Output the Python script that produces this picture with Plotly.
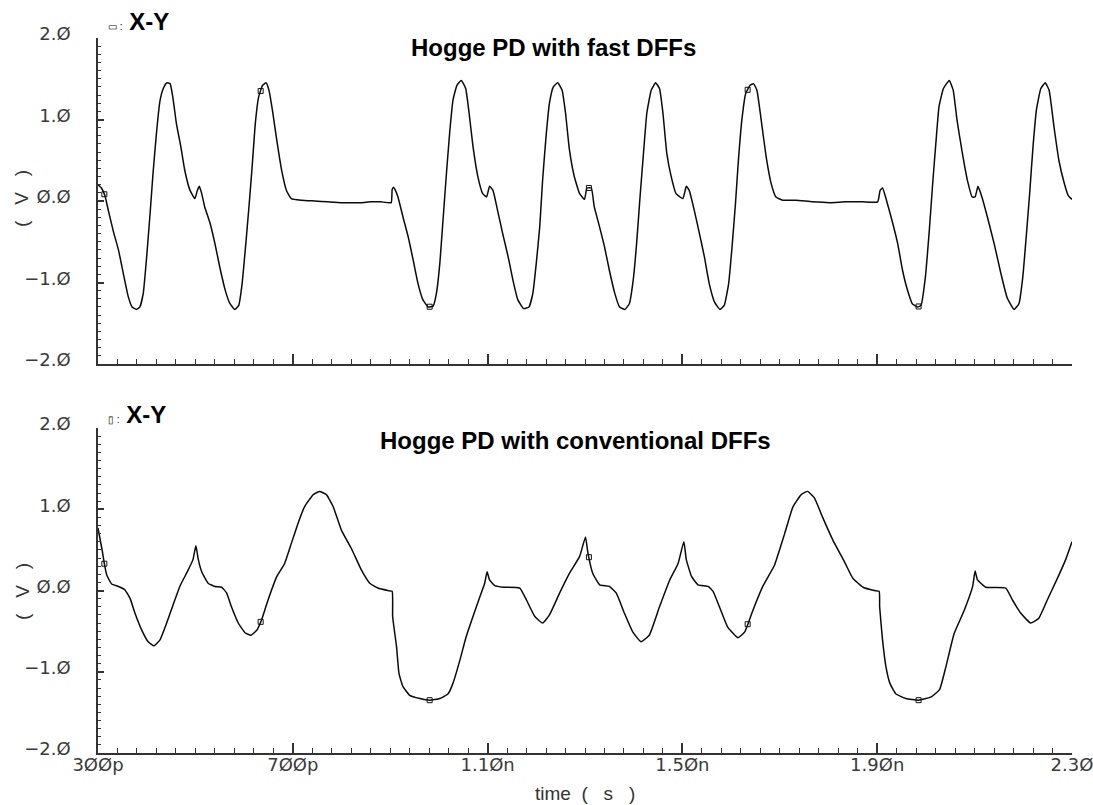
import numpy as np
import plotly.graph_objects as go

# Time axis in picoseconds, voltages in volts
top_t = [300, 307, 314, 321, 331, 342, 352, 362, 370, 379, 386, 393, 400, 407, 413, 420, 427, 434, 441, 448,
         454, 461, 470, 478, 489, 499, 504, 508, 513, 519, 530, 540, 550, 561, 571, 581, 589, 596, 603, 610,
         617, 623, 630, 638, 645, 651, 658, 667, 677, 687, 697, 718, 745, 772, 800, 813, 840, 861, 880, 902,
         904, 907, 910, 916, 926, 937, 947, 957, 967, 978, 988, 995, 1002, 1008, 1015, 1022, 1029, 1037, 1046, 1055,
         1062, 1070, 1080, 1090, 1098, 1104, 1111, 1121, 1131, 1142, 1152, 1162, 1174, 1185, 1193, 1200, 1207, 1213, 1220, 1227,
         1235, 1244, 1253, 1260, 1268, 1278, 1289, 1299, 1304, 1313, 1319, 1330, 1340, 1350, 1361, 1371, 1382, 1391, 1399, 1406,
         1413, 1420, 1427, 1436, 1445, 1453, 1460, 1468, 1477, 1487, 1501, 1508, 1514, 1525, 1535, 1545, 1555, 1566, 1577, 1586,
         1595, 1602, 1609, 1615, 1622, 1630, 1639, 1646, 1653, 1661, 1672, 1682, 1692, 1706, 1733, 1767, 1802, 1836, 1870, 1901,
         1906, 1911, 1919, 1930, 1942, 1952, 1962, 1972, 1983, 1990, 1999, 2007, 2014, 2021, 2027, 2036, 2048, 2056, 2064, 2075,
         2085, 2095, 2101, 2107, 2115, 2126, 2140, 2154, 2167, 2181, 2191, 2199, 2206, 2213, 2220, 2227, 2236, 2245, 2253, 2263,
         2273, 2284, 2292, 2300]
top_v = [0.20, 0.16, 0.07, -0.11, -0.36, -0.60, -0.89, -1.17, -1.30, -1.33, -1.30, -1.13, -0.68, -0.15, 0.34, 0.83, 1.22, 1.38, 1.45, 1.44,
         1.26, 0.95, 0.67, 0.38, 0.13, 0.03, 0.13, 0.18, 0.09, -0.07, -0.27, -0.52, -0.81, -1.09, -1.26, -1.33, -1.28, -1.01, -0.56, -0.07,
         0.46, 0.95, 1.28, 1.42, 1.45, 1.36, 1.12, 0.75, 0.38, 0.13, 0.03, 0.01, 0.00, -0.01, -0.02, -0.02, -0.02, -0.01, -0.01, -0.02,
         0.14, 0.17, 0.14, 0.05, -0.19, -0.44, -0.72, -1.01, -1.21, -1.30, -1.29, -1.13, -0.76, -0.27, 0.30, 0.83, 1.24, 1.42, 1.48, 1.38,
         1.08, 0.67, 0.30, 0.09, 0.05, 0.18, 0.13, -0.13, -0.40, -0.68, -0.97, -1.21, -1.32, -1.30, -1.13, -0.76, -0.32, 0.26, 0.79, 1.20,
         1.40, 1.45, 1.36, 1.08, 0.63, 0.30, 0.09, 0.02, 0.16, 0.16, -0.07, -0.32, -0.56, -0.85, -1.13, -1.30, -1.33, -1.26, -0.97, -0.52,
         0.05, 0.58, 1.08, 1.36, 1.45, 1.38, 1.08, 0.58, 0.30, 0.09, 0.03, 0.18, 0.13, -0.13, -0.40, -0.68, -1.01, -1.24, -1.33, -1.28,
         -1.01, -0.56, -0.03, 0.50, 0.99, 1.32, 1.42, 1.44, 1.36, 1.03, 0.54, 0.22, 0.05, 0.01, 0.01, -0.01, -0.02, -0.01, -0.01, -0.01,
         0.13, 0.16, 0.01, -0.23, -0.52, -0.85, -1.09, -1.26, -1.30, -1.28, -0.93, -0.36, 0.22, 0.75, 1.16, 1.38, 1.48, 1.36, 0.99, 0.58,
         0.26, 0.05, 0.05, 0.18, 0.05, -0.19, -0.52, -0.89, -1.19, -1.33, -1.26, -0.93, -0.44, 0.09, 0.67, 1.12, 1.38, 1.45, 1.36, 0.91,
         0.50, 0.22, 0.07, 0.02]

bot_t = [300, 304, 309, 313, 318, 328, 342, 355, 366, 376, 390, 403, 415, 427, 441, 454, 468, 485, 495, 501,
         506, 513, 526, 540, 554, 564, 574, 588, 602, 614, 626, 636, 649, 667, 683, 697, 711, 724, 742, 755,
         769, 783, 800, 820, 841, 858, 875, 895, 904, 905, 913, 918, 926, 940, 961, 981, 1002, 1019, 1029, 1043,
         1056, 1070, 1084, 1094, 1099, 1104, 1115, 1132, 1166, 1180, 1197, 1213, 1227, 1248, 1268, 1289, 1301, 1306, 1316, 1330,
         1350, 1364, 1381, 1398, 1415, 1432, 1453, 1474, 1491, 1503, 1508, 1519, 1532, 1553, 1563, 1576, 1593, 1614, 1628, 1645,
         1665, 1689, 1710, 1727, 1744, 1757, 1771, 1788, 1809, 1833, 1850, 1871, 1894, 1904, 1905, 1911, 1918, 1926, 1938, 1959,
         1985, 2011, 2028, 2041, 2058, 2079, 2096, 2101, 2106, 2123, 2164, 2178, 2195, 2215, 2232, 2249, 2270, 2287, 2300]
bot_v = [0.77, 0.64, 0.48, 0.33, 0.19, 0.08, 0.05, 0.01, -0.10, -0.28, -0.49, -0.63, -0.68, -0.61, -0.40, -0.18, 0.05, 0.25, 0.38, 0.55,
         0.38, 0.23, 0.09, 0.05, 0.04, -0.03, -0.20, -0.40, -0.52, -0.55, -0.49, -0.36, -0.12, 0.17, 0.33, 0.58, 0.83, 1.03, 1.18, 1.22,
         1.18, 1.03, 0.74, 0.52, 0.25, 0.09, 0.03, 0.00, -0.01, -0.32, -0.69, -1.02, -1.18, -1.29, -1.33, -1.35, -1.33, -1.27, -1.14, -0.86,
         -0.57, -0.32, -0.08, 0.09, 0.23, 0.13, 0.06, 0.04, 0.03, -0.12, -0.32, -0.40, -0.30, -0.03, 0.21, 0.42, 0.66, 0.46, 0.21, 0.07,
         0.05, -0.03, -0.28, -0.51, -0.63, -0.55, -0.20, 0.13, 0.33, 0.60, 0.38, 0.17, 0.07, 0.05, -0.01, -0.20, -0.45, -0.58, -0.51, -0.24,
         0.05, 0.31, 0.70, 1.03, 1.18, 1.22, 1.14, 0.90, 0.62, 0.35, 0.15, 0.04, 0.00, -0.01, -0.20, -0.61, -0.94, -1.14, -1.27, -1.33,
         -1.35, -1.31, -1.22, -0.94, -0.53, -0.24, 0.05, 0.24, 0.13, 0.04, 0.03, -0.12, -0.28, -0.40, -0.34, -0.12, 0.15, 0.38, 0.60]

# Cursor marks along the traces
marker_t = [313, 634, 981, 1308, 1634, 1985]

x_tickvals = [300, 700, 1100, 1500, 1900, 2300]
x_ticktext = ["3ØØp", "7ØØp", "1.1Øn", "1.5Øn", "1.9Øn", "2.3Ø"]
y_tickvals = [-2, -1, 0, 1, 2]
y_ticktext = ["−2.Ø", "−1.Ø", "Ø.Ø", "1.Ø", "2.Ø"]

titles = ["Hogge PD with fast DFFs", "Hogge PD with conventional DFFs"]

W, H = 1093, 805
ML, MR, MT, MB = 98, 21, 38, 52
PW, PH = W - ML - MR, H - MT - MB


def py(pix):
    # pixel row -> paper y
    return (H - MB - pix) / PH


def px(pix):
    return (pix - ML) / PW


AX = "#333333"
TICKFONT = dict(family="DejaVu Sans, sans-serif", size=18, color="#3a3a3a")

fig = go.Figure()
line = dict(color="#0a0a0a", width=1.5, shape="spline", smoothing=0.4)
fig.add_trace(go.Scatter(x=top_t, y=top_v, mode="lines", line=line, xaxis="x", yaxis="y", hoverinfo="skip"))
fig.add_trace(go.Scatter(x=bot_t, y=bot_v, mode="lines", line=line, xaxis="x2", yaxis="y2", hoverinfo="skip"))
fig.add_trace(go.Scatter(x=marker_t, y=np.interp(marker_t, top_t, top_v), mode="markers",
                         marker=dict(symbol="square-open", size=5, color="#111111", line=dict(width=1)),
                         xaxis="x", yaxis="y", hoverinfo="skip"))
fig.add_trace(go.Scatter(x=marker_t, y=np.interp(marker_t, bot_t, bot_v), mode="markers",
                         marker=dict(symbol="square-open", size=5, color="#111111", line=dict(width=1)),
                         xaxis="x2", yaxis="y2", hoverinfo="skip"))


def xaxis(domain_anchor, labels):
    return dict(
        range=[300, 2300], domain=[0, 1], anchor=domain_anchor,
        tickmode="array", tickvals=x_tickvals, ticktext=x_ticktext, showticklabels=labels,
        ticks="inside", ticklen=10, tickwidth=1.5, tickcolor=AX,
        minor=dict(dtick=40, tick0=300, ticks="inside", ticklen=5, tickwidth=1.2, tickcolor=AX, showgrid=False),
        showline=True, linecolor=AX, linewidth=1.5, showgrid=False, zeroline=False,
        tickfont=TICKFONT, ticklabeloverflow="allow", ticklabelstandoff=-5, automargin=False,
    )


def yaxis(domain, anchor):
    return dict(
        range=[-2, 2], domain=domain, anchor=anchor,
        tickmode="array", tickvals=y_tickvals, ticktext=y_ticktext,
        ticks="inside", ticklen=6, tickwidth=1.5, tickcolor=AX,
        minor=dict(dtick=0.1, tick0=0, ticks="inside", ticklen=3, tickwidth=1.2, tickcolor=AX, showgrid=False),
        showline=True, linecolor=AX, linewidth=1.5, showgrid=False, zeroline=False,
        tickfont=TICKFONT, ticklabelstandoff=22, ticklabelshift=-4, automargin=False,
    )


top_dom = [py(364), 1.0]
bot_dom = [0.0, py(428)]

ann = []
label_font = dict(family="Liberation Sans, Arial, sans-serif", size=19, color="#333333")
for yc in (199, 592):
    ann.append(dict(text="(&nbsp;&nbsp;&nbsp;V&nbsp;&nbsp;&nbsp;)", textangle=-90, x=px(22), y=py(yc),
                    xref="paper", yref="paper", xanchor="center", yanchor="middle",
                    showarrow=False, font=label_font))
ann.append(dict(text="time&nbsp;&nbsp;(&nbsp;&nbsp;&nbsp;s&nbsp;&nbsp;&nbsp;)", x=px(585), y=py(793),
                xref="paper", yref="paper", xanchor="center", yanchor="middle",
                showarrow=False, font=label_font))

head_font = dict(family="Liberation Sans, Arial, sans-serif", size=24, color="#000000")
for yc, glyph in ((22, "▭"), (414, "▯")):
    ann.append(dict(text=f"<span style='font-size:10px;font-weight:normal'>{glyph} :</span> <b>X-Y</b>",
                    x=px(106), y=py(yc), xref="paper", yref="paper", xanchor="left", yanchor="middle",
                    showarrow=False, font=head_font))

title_font = dict(family="Liberation Sans, Arial, sans-serif", size=24, color="#000000")
for (xc, yc), txt in zip(((553, 48), (575, 440)), titles):
    ann.append(dict(text=f"<b>{txt}</b>", x=px(xc), y=py(yc), xref="paper", yref="paper",
                    xanchor="center", yanchor="middle", showarrow=False, font=title_font))

fig.update_layout(
    width=W, height=H,
    margin=dict(l=ML, r=MR, t=MT, b=MB, pad=0),
    paper_bgcolor="white", plot_bgcolor="white",
    showlegend=False,
    xaxis=xaxis("y", False),
    yaxis=yaxis(top_dom, "x"),
    xaxis2=xaxis("y2", True),
    yaxis2=yaxis(bot_dom, "x2"),
    annotations=ann,
)
fig.update_xaxes(matches="x")

fig.write_html("out.html")
